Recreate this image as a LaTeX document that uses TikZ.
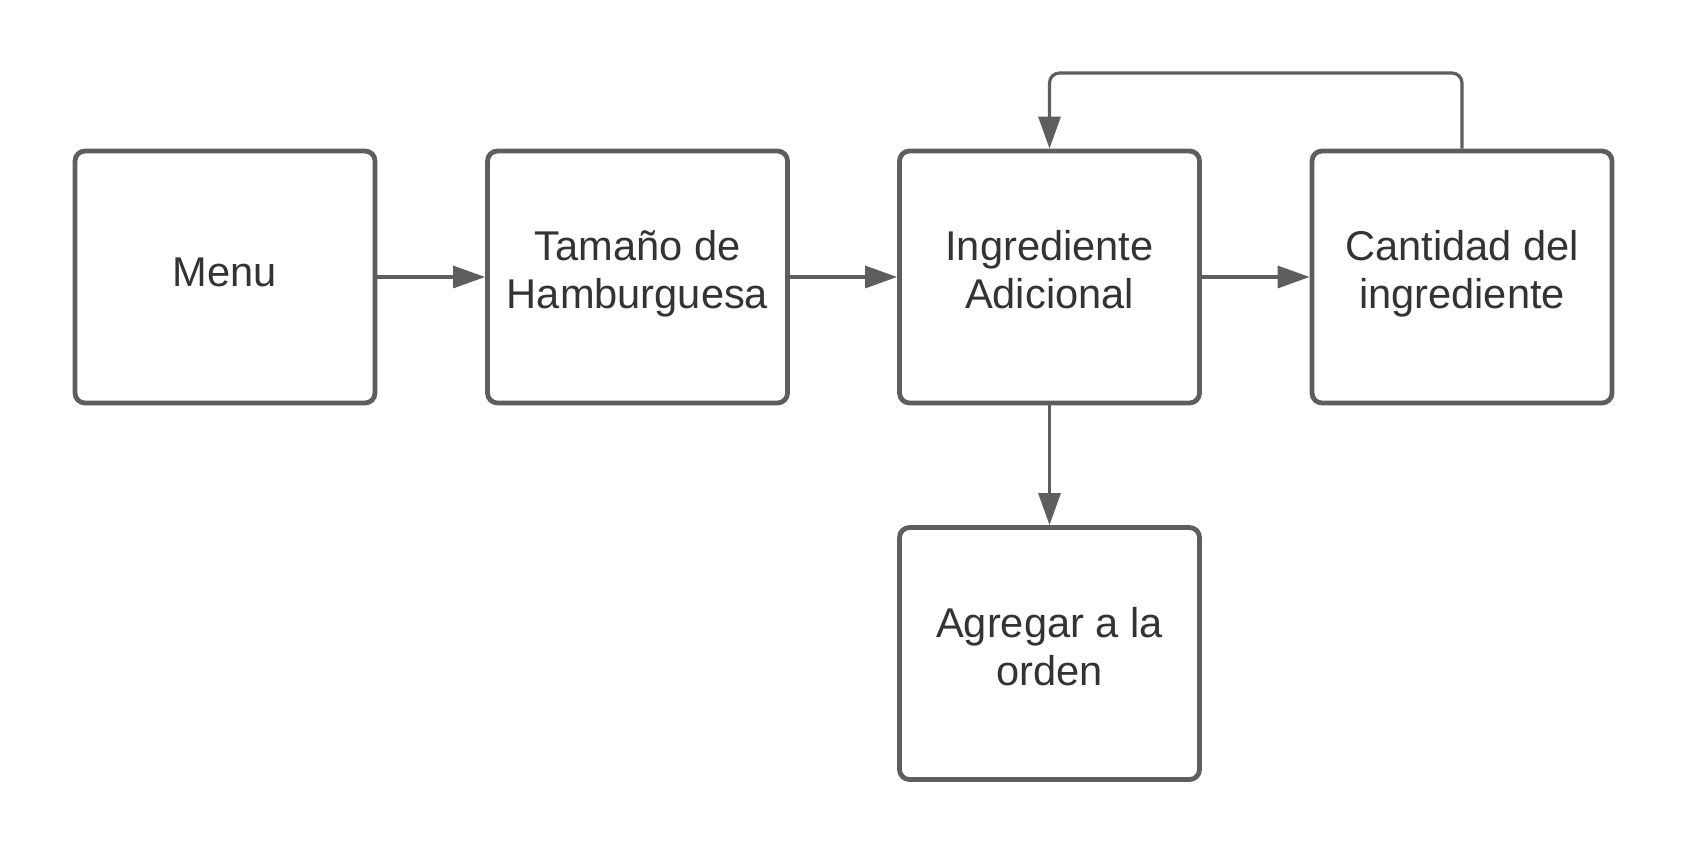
\documentclass[tikz,border=0pt]{standalone}
\usepackage{fontspec}
\setmainfont{Liberation Sans}
\usepackage{tikz}
\usetikzlibrary{arrows.meta}

\definecolor{linegray}{HTML}{5E5E5E}
\definecolor{textgray}{HTML}{333333}

\tikzset{
  box/.style={draw=linegray, line width=2.4pt, rounded corners=5pt,
    minimum width=150pt, minimum height=126pt, align=center,
    text=textgray, font=\fontsize{20.8}{24.15}\selectfont,
    execute at begin node=\strut, execute at end node=\strut},
  arr/.style={draw=linegray, line width=1.6pt,
    -{Triangle[length=16pt,width=11pt]}}
}

\begin{document}
\begin{tikzpicture}[x=0.5pt, y=-0.5pt]
\useasboundingbox (0,0) rectangle (1688,857);

\node [box] (menu) at (225,277) {Menu};
\node [box] (size) at (637.5,277) {Tamaño de\\Hamburguesa};
\node [box] (ingr) at (1049.5,277) {Ingrediente\\Adicional};
\node [box] (qty) at (1462,277) {Cantidad del\\ingrediente};
\node [box] (order) at (1049.5,653.5) {Agregar a la\\orden};

\coordinate (loop) at (1255,73);

\draw [arr] (menu) -- (size);
\draw [arr] (size) -- (ingr);
\draw [arr] (ingr) -- (qty);
\draw [arr] (ingr) -- (order);
\draw [arr, rounded corners=5pt] (qty.north) |- (loop) -| (ingr.north);
\end{tikzpicture}
\end{document}
